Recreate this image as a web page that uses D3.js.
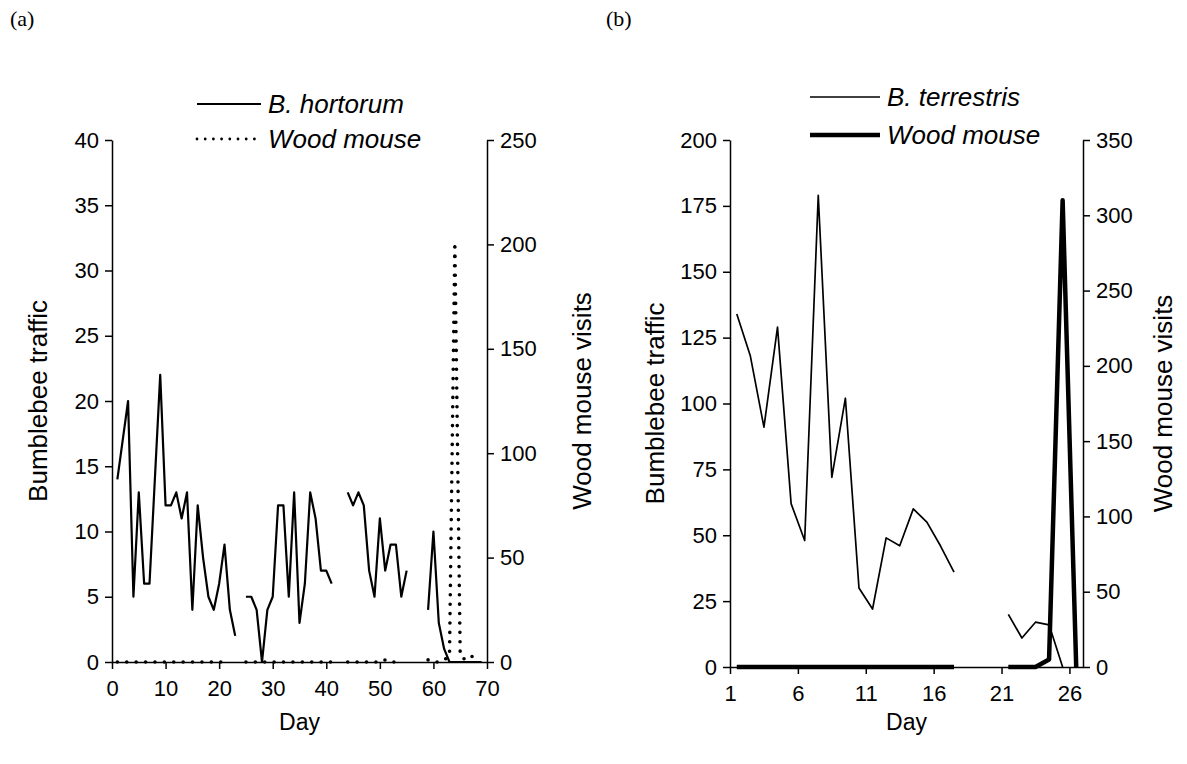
<!DOCTYPE html>
<html>
<head>
<meta charset="utf-8">
<script src="https://cdn.jsdelivr.net/npm/d3@7"></script>
<style>
  body { margin: 0; background: #fff; }
  svg text { font-family: "Liberation Sans", Arial, sans-serif; fill: #000; }
  .axis path, .axis line { stroke: #000; stroke-width: 1.5; }
  .axis text { font-size: 22px; }
</style>
</head>
<body>
<div id="chart"></div>
<script>
// panel (a): days 1..69, null = no record that day
const daysA = d3.range(1, 70);
const hortorum = [14, 17, 20, 5, 13, 6, 6, 14, 22, 12,
  12, 13, 11, 13, 4, 12, 8, 5, 4, 6,
  9, 4, 2, null, 5, 5, 4, 0, 4, 5,
  12, 12, 5, 13, 3, 6, 13, 11, 7, 7,
  6, null, null, 13, 12, 13, 12, 7, 5, 11,
  7, 9, 9, 5, 7, null, null, null, 4, 10,
  3, 1, 0, 0, 0, 0, 0, 0, 0];
const mouseA = [0, 0, 0, 0, 0, 0, 0, 0, 0, 0,
  0, 0, 0, 0, 0, 0, 0, 0, 0, 0,
  0, 0, null, null, 0, 0, 0, 0, 0, 0,
  0, 0, 0, 0, 0, 0, 0, 0, 0, 0,
  0, null, null, 0, 0, 0, 0, 0, 0, 0,
  1, 0, 0, 0, null, null, null, null, 1, 0,
  0, 1, 3, 201, 3, 1, 2, 5, null];
const xTicksA = [0, 10, 20, 30, 40, 50, 60, 70];
const yLTicksA = [0, 5, 10, 15, 20, 25, 30, 35, 40];
const yRTicksA = [0, 50, 100, 150, 200, 250];

// panel (b): days 1..26
const daysB = d3.range(1, 27);
const terrestris = [134, 118, 91, 129, 62, 48, 179, 72, 102, 30,
  22, 49, 46, 60, 55, 46, 36, null, null, null,
  20, 11, 17, 16, 0, null];
const mouseB = [0, 0, 0, 0, 0, 0, 0, 0, 0, 0,
  0, 0, 0, 0, 0, 0, 0, null, null, null,
  0, 0, 0, 5, 310, 0];
const xTicksB = [1, 6, 11, 16, 21, 26];
const yLTicksB = [0, 25, 50, 75, 100, 125, 150, 175, 200];
const yRTicksB = [0, 50, 100, 150, 200, 250, 300, 350];

const w = 1187, h = 764;

const svg = d3.select('#chart')
  .append('svg')
  .attr('width', w)
  .attr('height', h);

function panel(opt) {
  const x = d3.scaleLinear().domain(opt.xDomain).range([opt.left, opt.right]);
  const yL = d3.scaleLinear().domain(opt.yLDomain).range([opt.bottom, opt.top]);
  const yR = d3.scaleLinear().domain(opt.yRDomain).range([opt.bottom, opt.top]);
  const g = svg.append('g');

  g.append('g').attr('class', 'axis')
    .attr('transform', 'translate(0,' + opt.bottom + ')')
    .call(d3.axisBottom(x).tickValues(opt.xTicks).tickSize(7).tickSizeOuter(0).tickPadding(11));
  g.append('g').attr('class', 'axis')
    .attr('transform', 'translate(' + opt.left + ',0)')
    .call(d3.axisLeft(yL).tickValues(opt.yLTicks).tickSize(7).tickSizeOuter(0).tickPadding(6));
  g.append('g').attr('class', 'axis')
    .attr('transform', 'translate(' + opt.right + ',0)')
    .call(d3.axisRight(yR).tickValues(opt.yRTicks).tickSize(7).tickSizeOuter(0).tickPadding(6));

  const bee = d3.line()
    .defined(d => d[1] != null)
    .x(d => x(d[0] + opt.shift))
    .y(d => yL(d[1]));
  const mouse = d3.line()
    .defined(d => d[1] != null)
    .x(d => x(d[0] + opt.shift))
    .y(d => yR(d[1]));

  g.append('path')
    .datum(opt.days.map((d, i) => [d, opt.bee[i]]))
    .attr('d', bee)
    .attr('fill', 'none')
    .attr('stroke', '#000')
    .attr('stroke-width', opt.beeStyle.width)
    .attr('stroke-linejoin', 'round');
  g.append('path')
    .datum(opt.days.map((d, i) => [d, opt.mouse[i]]))
    .attr('d', mouse)
    .attr('fill', 'none')
    .attr('stroke', '#000')
    .attr('stroke-width', opt.mouseStyle.width)
    .attr('stroke-dasharray', opt.mouseStyle.dash)
    .attr('stroke-linecap', opt.mouseStyle.cap)
    .attr('stroke-linejoin', 'round');

  // axis titles
  g.append('text')
    .attr('transform', 'translate(' + opt.leftTitleX + ',' + (opt.top + opt.bottom) / 2 + ') rotate(-90)')
    .attr('text-anchor', 'middle')
    .attr('dy', '0.35em')
    .style('font-size', '26px')
    .text('Bumblebee traffic');
  g.append('text')
    .attr('transform', 'translate(' + opt.rightTitleX + ',' + (opt.top + opt.bottom) / 2 + ') rotate(-90)')
    .attr('text-anchor', 'middle')
    .attr('dy', '0.35em')
    .style('font-size', '26px')
    .text('Wood mouse visits');
  g.append('text')
    .attr('x', (opt.left + opt.right) / 2)
    .attr('y', 722)
    .attr('text-anchor', 'middle')
    .attr('dy', '0.35em')
    .style('font-size', '23px')
    .text('Day');

  // panel letter
  g.append('text')
    .attr('x', opt.letterX)
    .attr('y', 18)
    .attr('dy', '0.35em')
    .style('font-family', '"Liberation Serif", "Times New Roman", serif')
    .style('font-size', '22px')
    .text(opt.letter);

  // legend
  const lg = g.append('g');
  lg.append('line')
    .attr('x1', opt.legX1).attr('x2', opt.legX2)
    .attr('y1', opt.legY[0]).attr('y2', opt.legY[0])
    .attr('stroke', '#000')
    .attr('stroke-width', opt.beeStyle.width);
  lg.append('line')
    .attr('x1', opt.legX1).attr('x2', opt.legX2 - opt.legShort)
    .attr('y1', opt.legY[1]).attr('y2', opt.legY[1])
    .attr('stroke', '#000')
    .attr('stroke-width', opt.legMouse.width)
    .attr('stroke-dasharray', opt.legMouse.dash)
    .attr('stroke-linecap', opt.legMouse.cap);
  lg.selectAll('text')
    .data([opt.beeName, 'Wood mouse'])
    .enter()
    .append('text')
    .attr('x', opt.legX2 + 7)
    .attr('y', (d, i) => opt.legY[i])
    .attr('dy', '0.35em')
    .style('font-size', '26px')
    .style('font-style', 'italic')
    .text(d => d);
}

panel({
  letter: '(a)', letterX: 10,
  days: daysA, bee: hortorum, mouse: mouseA, shift: 0,
  xDomain: [0, 70], xTicks: xTicksA,
  yLDomain: [0, 40], yLTicks: yLTicksA,
  yRDomain: [0, 250], yRTicks: yRTicksA,
  left: 112, right: 487, top: 140, bottom: 662,
  beeStyle: { width: 2.2 },
  mouseStyle: { width: 3.6, dash: '0 9.4', cap: 'round' },
  legMouse: { width: 2.8, dash: '0 8.2', cap: 'round' },
  legX1: 197, legX2: 261, legShort: 4, legY: [104, 139],
  beeName: 'B. hortorum',
  leftTitleX: 38, rightTitleX: 582
});

// (b) is a category axis: each day sits in the middle of its slot
panel({
  letter: '(b)', letterX: 606,
  days: daysB, bee: terrestris, mouse: mouseB, shift: 0.5,
  xDomain: [1, 27], xTicks: xTicksB,
  yLDomain: [0, 200], yLTicks: yLTicksB,
  yRDomain: [0, 350], yRTicks: yRTicksB,
  left: 730, right: 1083, top: 140, bottom: 667,
  beeStyle: { width: 1.7 },
  mouseStyle: { width: 4.5, dash: null, cap: 'butt' },
  legMouse: { width: 4.5, dash: null, cap: 'butt' },
  legX1: 810, legX2: 880, legShort: 0, legY: [97, 135],
  beeName: 'B. terrestris',
  leftTitleX: 655, rightTitleX: 1163
});
</script>
</body>
</html>
